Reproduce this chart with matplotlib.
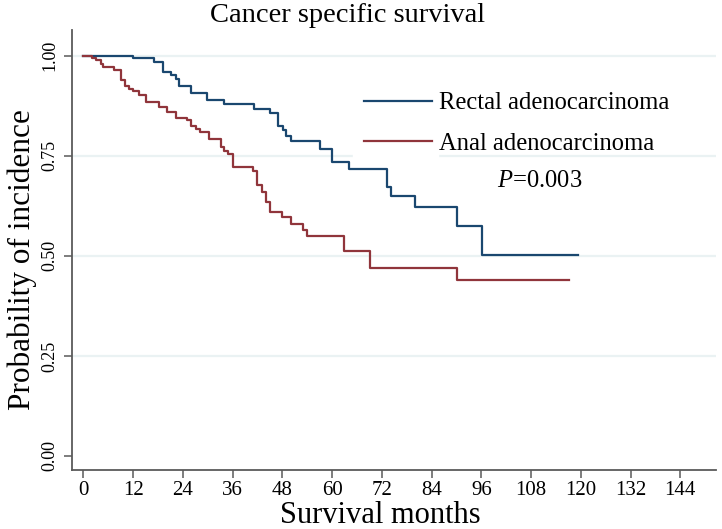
import numpy as np
import matplotlib as mpl
import matplotlib.pyplot as plt
from matplotlib.patches import Rectangle

mpl.rcParams['font.family'] = ['Liberation Serif', 'DejaVu Serif']
mpl.rcParams['mathtext.fontset'] = 'custom'
mpl.rcParams['mathtext.rm'] = 'Liberation Serif'
mpl.rcParams['mathtext.it'] = 'Liberation Serif:italic'

# Kaplan-Meier steps (months, survival)
rectal_t = [0, 12.0, 17.0, 19.1, 21.1, 22.3, 23.1, 25.9, 29.9, 33.9, 41.2, 45.0,
            47.0, 48.1, 49.0, 50.0, 57.1, 60.1, 64.1, 73.3, 74.1, 80.1, 90.1, 96.2, 119.3]
rectal_s = [1.0, 0.993, 0.983, 0.958, 0.952, 0.942, 0.925, 0.907, 0.888, 0.880, 0.867, 0.856,
            0.825, 0.813, 0.800, 0.786, 0.768, 0.734, 0.716, 0.671, 0.649, 0.621, 0.574, 0.502, 0.502]

anal_t = [0, 2.2, 3.0, 4.2, 4.7, 7.3, 9.2, 10.0, 11.1, 12.0, 13.5, 15.2, 18.3, 20.3, 22.3,
          25.1, 25.9, 27.1, 28.1, 30.3, 33.1, 33.9, 34.8, 36.2, 41.0, 42.0, 43.2, 44.0, 45.0,
          48.0, 50.0, 53.0, 53.9, 62.9, 69.1, 90.1, 117.1]
anal_s = [1.0, 0.993, 0.988, 0.979, 0.971, 0.963, 0.938, 0.925, 0.917, 0.911, 0.902, 0.885,
          0.871, 0.859, 0.845, 0.838, 0.825, 0.817, 0.809, 0.792, 0.771, 0.763, 0.755, 0.721,
          0.711, 0.676, 0.659, 0.634, 0.609, 0.597, 0.580, 0.565, 0.549, 0.511, 0.470, 0.439, 0.439]

x_ticks = list(range(0, 145, 12))
y_ticks = [0.0, 0.25, 0.5, 0.75, 1.0]
labels = ['Rectal adenocarcinoma', 'Anal adenocarcinoma']
p_text = '0.003'

blue = '#1a476f'
red = '#90353b'

fig = plt.figure(figsize=(7.22, 5.29), dpi=100)
ax = fig.add_axes([72/722, 1-470/529, (716-72)/722, (470-30)/529])

for y in y_ticks[1:]:
    ax.axhline(y, color='#eaf2f3', lw=1.6, zorder=0)

ax.step(rectal_t, rectal_s, where='post', color=blue, lw=1.6, label=labels[0], zorder=3)
ax.step(anal_t, anal_s, where='post', color=red, lw=1.6, label=labels[1], zorder=3)

# white backing behind legend keys
ax.add_patch(Rectangle((65, 0.73), 20.5, 0.25, color='white', zorder=1))

ax.set_xlim(-2.73, 152.6)
ax.set_ylim(-0.035, 1.064)
ax.set_xticks(x_ticks)
ax.set_xticklabels([str(t) for t in x_ticks], fontsize=15)
ax.set_yticks(y_ticks)
ax.set_yticklabels(['%.2f' % v for v in y_ticks], fontsize=13, rotation=90, va='center')

for s in ['top', 'right']:
    ax.spines[s].set_visible(False)
for s in ['left', 'bottom']:
    ax.spines[s].set_color('#5a5a5a')
    ax.spines[s].set_linewidth(1.3)
ax.tick_params(axis='x', length=6, width=1.1, color='#5a5a5a', pad=2)
ax.tick_params(axis='y', length=6, width=1.1, color='#5a5a5a', pad=4)

leg = ax.legend(loc='upper left', bbox_to_anchor=(364/722, 1-92/529),
                bbox_transform=fig.transFigure, frameon=False, fontsize=17.7,
                handlelength=2.75, handletextpad=0.3, labelspacing=0.75, borderpad=0,
                borderaxespad=0)

fig.text(540/722, 1-181/529, '$\\mathit{P}$=' + p_text, fontsize=17.7, ha='center', va='center')
fig.text(347/722, 1-15/529, 'Cancer specific survival', fontsize=20.5, ha='center', va='center')
fig.text(380/722, 1-523/529, 'Survival months', fontsize=22, ha='center', va='baseline')
fig.text(22/722, 1-260/529, 'Probability of incidence', fontsize=22.5, ha='center', va='center',
         rotation=90)

fig.savefig('out.png', dpi=100)
